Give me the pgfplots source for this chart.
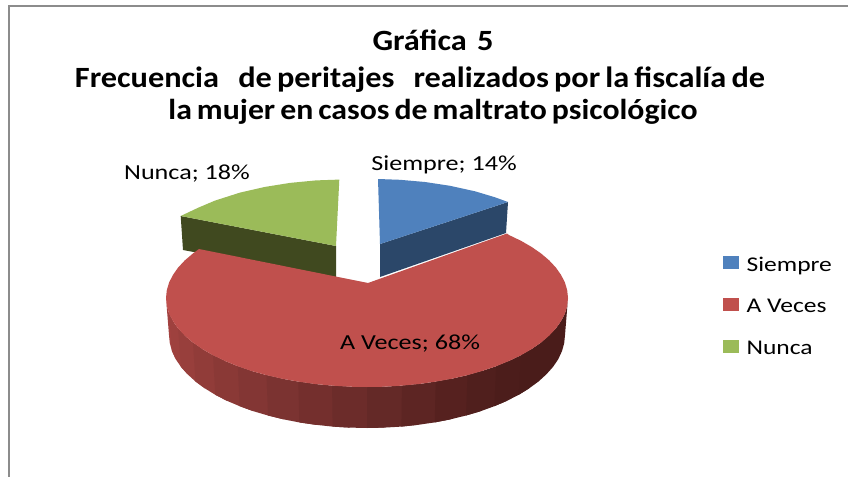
\documentclass[border=0pt]{standalone}
\usepackage{pgfplots}
\pgfplotsset{compat=1.18}
\usepackage{fontspec}
\setmainfont{Carlito}
\newfontfamily\lab[FakeStretch=1.22]{Carlito}
\newfontfamily\ttl[FakeStretch=1.1,WordSpace=0.7,BoldFont=Carlito Bold]{Carlito}
\definecolor{cblue}{HTML}{4F81BD}
\definecolor{cred}{HTML}{C0504D}
\definecolor{cgreen}{HTML}{9BBB59}
\definecolor{dblue}{HTML}{2B4769}
\definecolor{dgreen}{HTML}{40491F}
\definecolor{frame}{HTML}{8C8C8C}
\definecolor{s1}{HTML}{A34240}\definecolor{s2}{HTML}{9E413E}\definecolor{s3}{HTML}{983F3C}
\definecolor{s4}{HTML}{913C39}\definecolor{s5}{HTML}{8A3936}\definecolor{s6}{HTML}{833634}
\definecolor{s7}{HTML}{7B3331}\definecolor{s8}{HTML}{742F2D}\definecolor{s9}{HTML}{6C2C2A}
\definecolor{s10}{HTML}{642927}\definecolor{s11}{HTML}{5D2523}\definecolor{s12}{HTML}{56211F}
\definecolor{s13}{HTML}{501F1D}\definecolor{s14}{HTML}{4C1D1B}\definecolor{s15}{HTML}{4A1C1A}
\begin{document}
\begin{tikzpicture}[x=1bp,y=1bp]
\begin{axis}[
  scale only axis, width=848bp, height=477bp,
  xmin=0, xmax=848, ymin=0, ymax=477, y dir=reverse,
  axis lines=none, clip=true,
  legend cell align=left,
  legend style={at={(axis cs:723,254.5)},anchor=north west,draw=none,fill=none,
    font=\fontsize{21}{21}\selectfont\lab,row sep=23bp,inner sep=0pt},
  legend image code/.code={\path (0bp,0bp) (21bp,0bp);\fill[draw=none,#1] (0bp,-4bp) rectangle (16bp,9bp);},
]
\addlegendimage{fill=cblue}\addlegendentry{Siempre}
\addlegendimage{fill=cred}\addlegendentry{A Veces}
\addlegendimage{fill=cgreen}\addlegendentry{Nunca}
% frame
\addplot[forget plot,fill=white,draw=none] coordinates {(0,0)(848,0)(848,477)(0,477)} --cycle;
\addplot[forget plot,draw=frame,line width=2bp] coordinates {(9,477)(9,6)(848,6)};
% side of the pie, strip by strip, each running a little under the next
\addplot[forget plot,fill=s1,draw=none] coordinates {(166,298)(166.8,305.8)(169.1,313.5)(172.9,321)(175.7,359.1)(172,351.1)(169.8,343.1)(169,335)} --cycle;
\addplot[forget plot,fill=s2,draw=none] coordinates {(169.1,313.5)(172.9,321)(178.1,328.4)(184.8,335.6)(187.6,374.3)(180.9,366.8)(175.7,359.1)(172,351.1)} --cycle;
\addplot[forget plot,fill=s3,draw=none] coordinates {(178.1,328.4)(184.8,335.6)(192.9,342.5)(202.3,349)(204.8,388.3)(195.5,381.5)(187.6,374.3)(180.9,366.8)} --cycle;
\addplot[forget plot,fill=s4,draw=none] coordinates {(192.9,342.5)(202.3,349)(213,355.2)(224.9,360.9)(227,400.8)(215.3,394.8)(204.8,388.3)(195.5,381.5)} --cycle;
\addplot[forget plot,fill=s5,draw=none] coordinates {(213,355.2)(224.9,360.9)(237.8,366.2)(251.3,370.9)(253.4,411.2)(239.7,406.2)(227,400.8)(215.3,394.8)} --cycle;
\addplot[forget plot,fill=s6,draw=none] coordinates {(237.8,366.2)(251.3,370.9)(266.5,375.1)(282.1,378.7)(283.3,419.3)(268,415.5)(253.4,411.2)(239.7,406.2)} --cycle;
\addplot[forget plot,fill=s7,draw=none] coordinates {(266.5,375.1)(282.1,378.7)(298.3,381.6)(315,384)(315.8,424.8)(299.3,422.4)(283.3,419.3)(268,415.5)} --cycle;
\addplot[forget plot,fill=s8,draw=none] coordinates {(298.3,381.6)(315,384)(332.1,385.6)(349.5,386.7)(349.7,427.6)(332.6,426.6)(315.8,424.8)(299.3,422.4)} --cycle;
\addplot[forget plot,fill=s9,draw=none] coordinates {(332.1,385.6)(349.5,386.7)(367,387)(384.5,386.7)(384.3,427.6)(367,428)(349.7,427.6)(332.6,426.6)} --cycle;
\addplot[forget plot,fill=s10,draw=none] coordinates {(367,387)(384.5,386.7)(401.9,385.6)(419,384)(418.2,424.8)(401.4,426.6)(384.3,427.6)(367,428)} --cycle;
\addplot[forget plot,fill=s11,draw=none] coordinates {(401.9,385.6)(419,384)(435.7,381.6)(451.9,378.7)(450.7,419.3)(434.7,422.4)(418.2,424.8)(401.4,426.6)} --cycle;
\addplot[forget plot,fill=s12,draw=none] coordinates {(435.7,381.6)(451.9,378.7)(467.5,375.1)(482.3,370.9)(480.6,411.2)(466,415.5)(450.7,419.3)(434.7,422.4)} --cycle;
\addplot[forget plot,fill=s13,draw=none] coordinates {(467.5,375.1)(482.3,370.9)(496.2,366.2)(509.1,360.9)(507,400.8)(494.3,406.2)(480.6,411.2)(466,415.5)} --cycle;
\addplot[forget plot,fill=s14,draw=none] coordinates {(496.2,366.2)(509.1,360.9)(521,355.2)(531.7,349)(529.2,388.3)(518.7,394.8)(507,400.8)(494.3,406.2)} --cycle;
\addplot[forget plot,fill=s15,draw=none] coordinates {(521,355.2)(531.7,349)(541.1,342.5)(555.9,328.4)(561.1,321)(564.9,313.5)(567.2,305.8)(568,298)(565,335)(564.2,343.1)(562,351.1)(558.3,359.1)(553.1,366.8)(546.4,374.3)(538.5,381.5)(529.2,388.3)(518.7,394.8)} --cycle;
% Nunca
\addplot[forget plot,fill=dgreen,draw=none] coordinates {(180.7,216)(183,250)(199,253)(336,280)(336,246)} --cycle;
\addplot[forget plot,fill=cgreen,draw=none] coordinates {(336,246)(339.3,179.6)(316,180.4)(290,182.9)(265,186.9)(240,192.6)(215,200.6)(198,207.8)(180.7,216)} --cycle;
% Siempre
\addplot[forget plot,fill=dblue,draw=none] coordinates {(380,244)(508,202)(506,233)(380,277)} --cycle;
\addplot[forget plot,fill=cblue,draw=none] coordinates {(380,244)(378,179)(400,179.8)(425,182)(450,185.8)(475,191.3)(495,197.3)(508,202)} --cycle;
% A Veces
\addplot[forget plot,fill=cred,draw=none] coordinates {(368,283)(507,233.5)(509.1,235.1)(521,240.8)(531.7,247)(541.1,253.5)(549.2,260.4)(555.9,267.6)(561.1,275)(564.9,282.5)(567.2,290.2)(568,298)(567.2,305.8)(564.9,313.5)(561.1,321)(555.9,328.4)(549.2,335.6)(541.1,342.5)(531.7,349)(521,355.2)(509.1,360.9)(496.2,366.2)(482.3,370.9)(467.5,375.1)(451.9,378.7)(435.7,381.6)(419,384)(401.9,385.6)(384.5,386.7)(367,387)(349.5,386.7)(332.1,385.6)(315,384)(298.3,381.6)(282.1,378.7)(266.5,375.1)(251.3,370.9)(237.8,366.2)(224.9,360.9)(213,355.2)(202.3,349)(192.9,342.5)(184.8,335.6)(178.1,328.4)(172.9,321)(169.1,313.5)(166.8,305.8)(166,298)(166.8,290.2)(169.1,282.5)(172.9,275)(178.1,267.6)(184.8,260.4)(192.9,253.5)(199,249)} --cycle;
% title and data labels
\node[font=\fontsize{29.5}{29.5}\selectfont\ttl\bfseries] at (axis cs:433,40) {Gráfica\ \ 5};
\node[font=\fontsize{29.5}{29.5}\selectfont\ttl\bfseries] at (axis cs:420,80) {Frecuencia\ \ \hspace{9bp}de peritajes\ \ \hspace{9bp}realizados por la fiscalía de};
\node[font=\fontsize{29}{29}\selectfont\ttl\bfseries] at (axis cs:433,112) {la mujer en casos de maltrato psicológico};
\node[font=\fontsize{21.5}{21.5}\selectfont\lab] at (axis cs:444,165) {Siempre; 14\%};
\node[font=\fontsize{21.5}{21.5}\selectfont\lab] at (axis cs:187,174) {Nunca; 18\%};
\node[font=\fontsize{21.5}{21.5}\selectfont\lab] at (axis cs:410,344) {A Veces; 68\%};
\end{axis}
\end{tikzpicture}
\end{document}
